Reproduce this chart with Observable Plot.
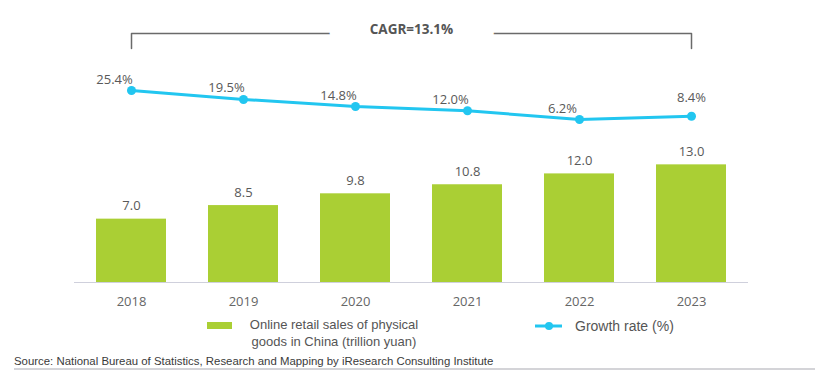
<!DOCTYPE html>
<html>
<head>
<meta charset="utf-8">
<script src="https://cdn.jsdelivr.net/npm/d3@7"></script>
<script src="https://cdn.jsdelivr.net/npm/@observablehq/plot@0.6"></script>
<style>
  html, body { margin: 0; padding: 0; background: #fff; }
  #wrap { position: relative; width: 825px; height: 374px; overflow: hidden; font-family: "Liberation Sans", Arial, sans-serif; }
  #wrap > .layer { position: absolute; left: 0; top: 0; }
  .lg { position: absolute; color: #555; font-size: 13px; }
</style>
</head>
<body>
<div id="wrap"></div>
<script>
// ---- data ----
const years = ["2018", "2019", "2020", "2021", "2022", "2023"];
const sales = [7.0, 8.5, 9.8, 10.8, 12.0, 13.0];          // trillion yuan
const growth = [25.4, 19.5, 14.8, 12.0, 6.2, 8.4];        // %
const cagrLabel = "CAGR=13.1%";
const salesLabel = "Online retail sales of physical goods in China (trillion yuan)";
const growthLabel = "Growth rate (%)";
const sourceText = "Source: National Bureau of Statistics, Research and Mapping by iResearch Consulting Institute";

const barColor = "#aacf34";
const lineColor = "#22c6f0";
const labelColor = "#595959";
const W = 825;

const barData = years.map((y, i) => ({year: y, value: sales[i]}));
const lineData = years.map((y, i) => ({year: y, value: growth[i], i}));

const wrap = document.getElementById("wrap");
const transparent = {background: "transparent", overflow: "visible"};

// ---- bracket (CAGR) ----
const bracket = [
  {year: years[0], v: 0}, {year: years[0], v: 1},
  {year: years[years.length - 1], v: 1}, {year: years[years.length - 1], v: 0}
];
const p3 = Plot.plot({
  width: W, height: 50,
  marginLeft: 130, marginRight: 133, marginTop: 33, marginBottom: 2,
  style: transparent,
  x: {type: "point", domain: years, padding: 0, axis: null},
  y: {domain: [0, 1], range: [48, 33], axis: null},
  marks: [
    Plot.line(bracket, {x: "year", y: "v", stroke: "#6a6a6a", strokeWidth: 1.5}),
    Plot.text([cagrLabel], {
      frameAnchor: "top", text: d => d, dy: -4, lineAnchor: "middle",
      fontFamily: "Open Sans", fontWeight: "bold", fontSize: 13.5, fill: "#555",
      stroke: "white", strokeWidth: 82, strokeLinejoin: "round"
    })
  ]
});

// ---- growth line ----
const p2 = Plot.plot({
  width: W, height: 135,
  marginLeft: 130, marginRight: 133, marginTop: 0, marginBottom: 0,
  style: transparent,
  x: {type: "point", domain: years, padding: 0, axis: null},
  y: {domain: [0, 30], range: [128.4, 128.4 - 30 * 1.51], axis: null},
  marks: [
    Plot.line(lineData, {x: "year", y: "value", stroke: lineColor, strokeWidth: 3}),
    Plot.dot(lineData, {x: "year", y: "value", r: 4.5, fill: lineColor}),
    Plot.text(lineData.filter(d => d.i < years.length - 1), {
      x: "year", y: "value", text: d => d.value.toFixed(1) + "%",
      dx: -17, dy: -7, lineAnchor: "bottom",
      fontFamily: "Open Sans", fontSize: 13, fill: labelColor
    }),
    Plot.text(lineData.filter(d => d.i === years.length - 1), {
      x: "year", y: "value", text: d => d.value.toFixed(1) + "%",
      dy: -14, lineAnchor: "bottom",
      fontFamily: "Open Sans", fontSize: 13, fill: labelColor
    })
  ]
});

// ---- bars ----
const p1 = Plot.plot({
  width: W, height: 315,
  marginLeft: 74, marginRight: 77, marginTop: 150, marginBottom: 33,
  style: transparent,
  x: {domain: years, paddingInner: 0.377, paddingOuter: 0.187, label: null},
  y: {domain: [0, 13], range: [282, 282 - 13 * 9.05], axis: null},
  marks: [
    Plot.barY(barData, {x: "year", y: "value", fill: barColor}),
    Plot.ruleY([0], {stroke: "#cfd0dc", strokeWidth: 1.2}),
    Plot.text(barData, {
      x: "year", y: "value", text: d => d.value.toFixed(1),
      dy: -9, lineAnchor: "bottom",
      fontFamily: "Open Sans", fontSize: 13, fill: labelColor
    }),
    Plot.axisX({tickSize: 0, tickPadding: 14, fontSize: 13, fontFamily: "Open Sans", color: "#666", label: null})
  ]
});

[p3, p2, p1].forEach(p => { p.classList.add("layer"); });
wrap.appendChild(p1);
wrap.appendChild(p2);
wrap.appendChild(p3);

// ---- legend ----
const sw = document.createElement("div");
sw.style.cssText = `position:absolute;left:207px;top:322px;width:25px;height:7px;background:${barColor};`;
wrap.appendChild(sw);

const lt = document.createElement("div");
lt.className = "lg";
lt.style.cssText += "left:248px;top:316px;width:172px;text-align:center;line-height:17px;";
lt.textContent = salesLabel;
wrap.appendChild(lt);

const ns = "http://www.w3.org/2000/svg";
const lsvg = document.createElementNS(ns, "svg");
lsvg.setAttribute("width", 30); lsvg.setAttribute("height", 12);
lsvg.style.cssText = "position:absolute;left:534px;top:320px;";
const ll = document.createElementNS(ns, "line");
ll.setAttribute("x1", 1); ll.setAttribute("x2", 28); ll.setAttribute("y1", 6); ll.setAttribute("y2", 6);
ll.setAttribute("stroke", lineColor); ll.setAttribute("stroke-width", 3);
const lc = document.createElementNS(ns, "circle");
lc.setAttribute("cx", 15); lc.setAttribute("cy", 6); lc.setAttribute("r", 4); lc.setAttribute("fill", lineColor);
lsvg.appendChild(ll); lsvg.appendChild(lc);
wrap.appendChild(lsvg);

const gt = document.createElement("div");
gt.className = "lg";
gt.style.cssText += "left:575px;top:317px;font-size:14px;line-height:18px;";
gt.textContent = growthLabel;
wrap.appendChild(gt);

// ---- source ----
const src = document.createElement("div");
src.style.cssText = "position:absolute;left:14px;top:354px;font-size:11.4px;color:#3a3a3a;line-height:14px;";
src.textContent = sourceText;
wrap.appendChild(src);

const hr = document.createElement("div");
hr.style.cssText = "position:absolute;left:14px;top:368px;width:801px;height:2px;background:#d4d4d8;";
wrap.appendChild(hr);
</script>
</body>
</html>
